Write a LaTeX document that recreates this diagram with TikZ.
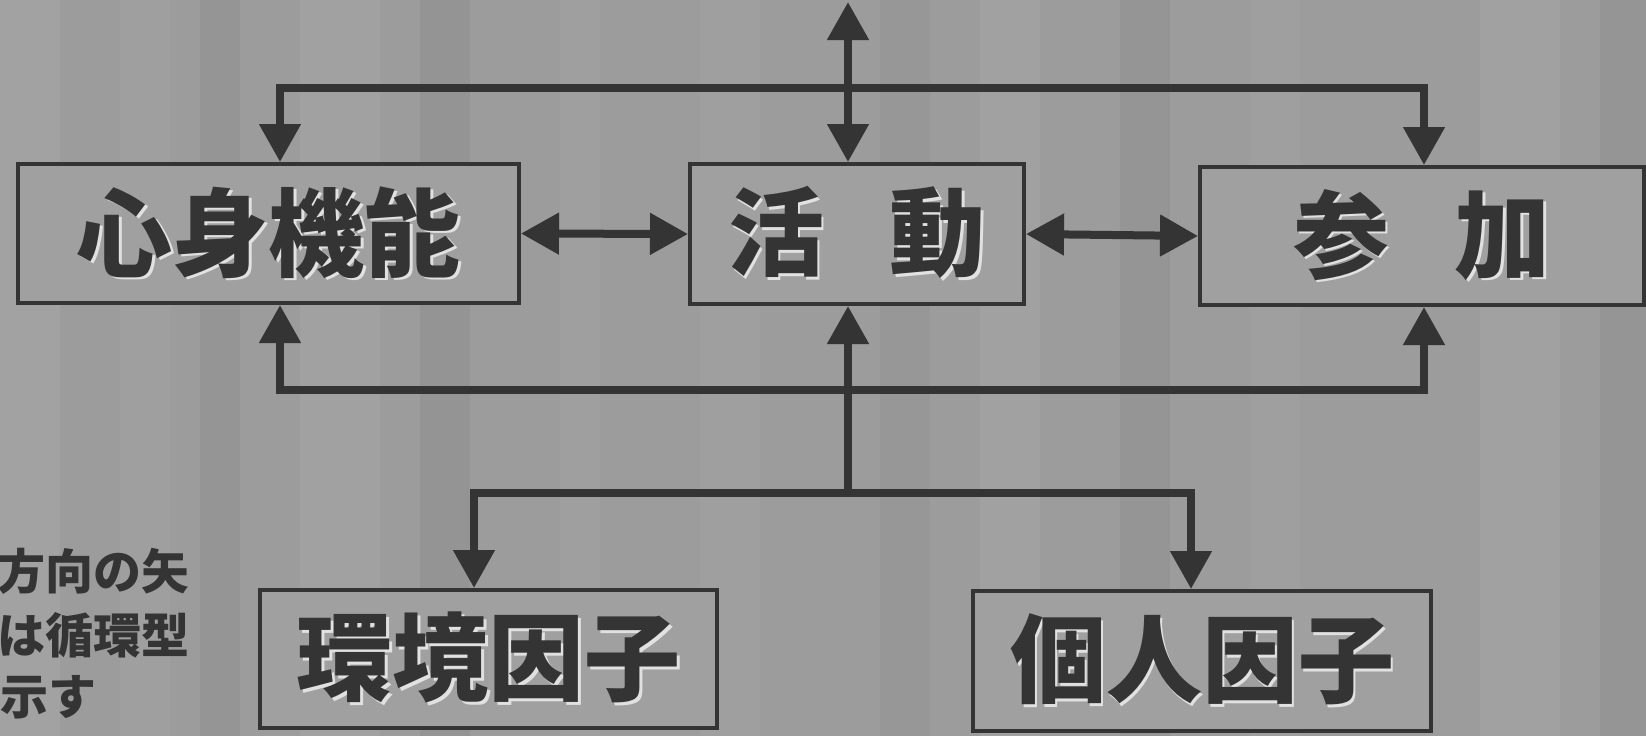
\documentclass[tikz,border=0pt]{standalone}
\usepackage{fontspec}
\newfontfamily\jp{Noto Sans CJK JP}
\usetikzlibrary{arrows.meta,calc}
\definecolor{bg}{RGB}{156,156,156}
\definecolor{ink}{RGB}{52,52,52}
\definecolor{hl}{RGB}{225,225,225}
\newcommand\emb[1]{\makebox[0pt][l]{\raisebox{-2.5pt}{\hspace{2.5pt}\color{hl}#1}}\color{ink}#1}
\tikzset{
  box/.style={draw=ink, line width=4pt, rectangle, inner sep=0pt, fill=bg!96!white},
  big/.style={font=\jp\bfseries\fontsize{96pt}{96pt}\selectfont},
  small/.style={font=\jp\bfseries\fontsize{48pt}{48pt}\selectfont, text=ink, inner sep=0pt, anchor=west},
  conn/.style={draw=ink, line width=8pt, line join=miter, line cap=butt},
  tip/.tip={Triangle[width=40pt,length=38pt]}
}
\begin{document}
\begin{tikzpicture}[x=1pt,y=-1pt]
\useasboundingbox (0,0) rectangle (1646,736);
\clip (0,0) rectangle (1646,736);
\fill[bg] (0,0) rectangle (1646,736);
\foreach \a/\b/\o in {0/60/0.07,120/170/0.04,300/380/0.05,560/600/0.04,700/760/0.03,980/1040/0.05,1250/1300/0.04,1480/1560/0.05}
  \fill[white, opacity=\o] (\a,0) rectangle (\b,736);
\foreach \a/\b/\o in {200/240/0.04,420/470/0.05,880/930/0.03,1120/1170/0.04,1600/1646/0.04}
  \fill[black, opacity=\o] (\a,0) rectangle (\b,736);

% boxes
\node[box, big, minimum width=501pt, minimum height=139pt] (shin) at (268.5,233.5) {\emb{心身機能}};
\node[box, big, minimum width=334pt, minimum height=140pt] (huo) at (857,234) {\emb{活\hspace{66pt}動}};
\node[box, big, minimum width=444pt, minimum height=138pt] (san) at (1422,236) {\emb{参\hspace{66pt}加}};
\node[box, big, minimum width=457pt, minimum height=138pt] (kan) at (488.5,659) {\emb{環境因子}};
\node[box, big, minimum width=458pt, minimum height=140pt] (ko) at (1202,661) {\emb{個人因子}};

% side note
\node[small] (n1) at (-3,571) {方向の矢};
\node[small] (n2) at (-3,635) {は循環型};
\node[small] (n3) at (0,697) {示す};

% connectors
\coordinate (top) at (848,2);
\coordinate (tl) at (280,88);
\coordinate (tr) at (1424,88);
\coordinate (bl) at (280,390);
\coordinate (br) at (1424,390);
\coordinate (jn) at (848,493);
\coordinate (fl) at (474,493);
\coordinate (fr) at (1191,493);

\draw[conn, tip-tip] (top) -- (top |- huo.north);
\draw[conn, tip-tip] (tl |- shin.north) -- (tl) -- (tr) -- (tr |- san.north);
\draw[conn, tip-tip] (shin.east) -- (huo.west);
\draw[conn, tip-tip] (huo.east) -- (san.west);
\draw[conn, tip-tip] (bl |- shin.south) -- (bl) -- (br) -- (br |- san.south);
\draw[conn, -tip] (jn) -- (jn |- huo.south);
\draw[conn, tip-tip] (fl |- kan.north) -- (fl) -- (fr) -- (fr |- ko.north);
\end{tikzpicture}
\end{document}
